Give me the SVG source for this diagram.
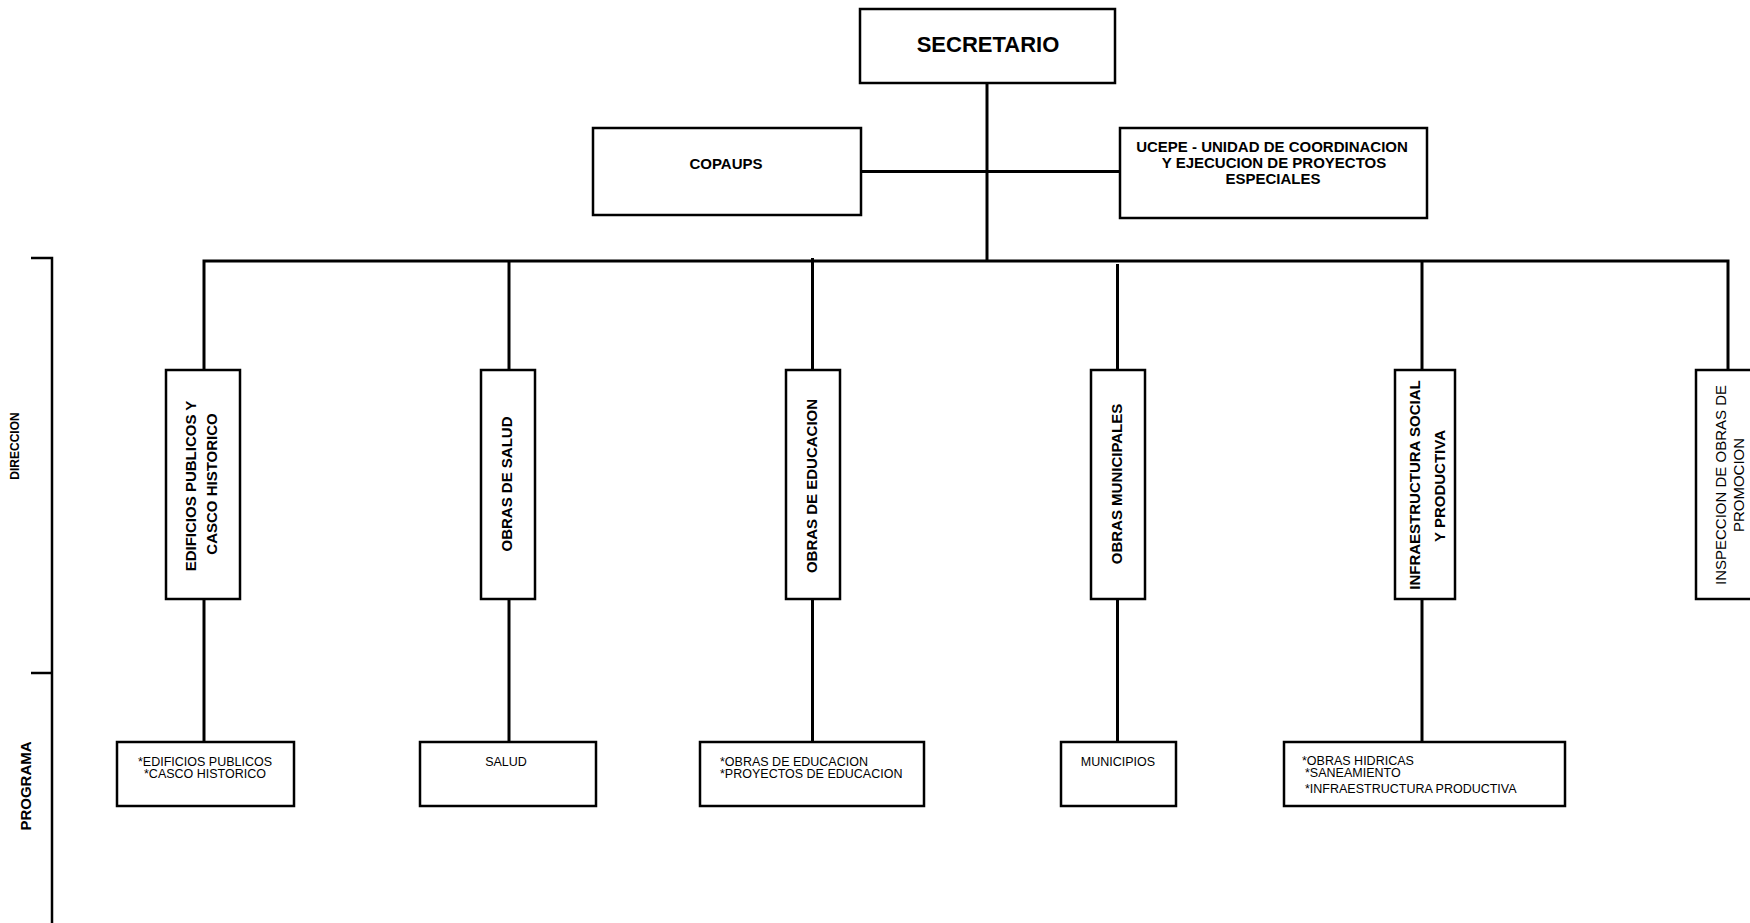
<svg xmlns="http://www.w3.org/2000/svg" width="1750" height="923" viewBox="0 0 1750 923">
<style>
.box{fill:#fff;stroke:#000;stroke-width:2.5}
.ln{fill:none;stroke:#000;stroke-width:3}
.bk{fill:none;stroke:#000;stroke-width:2.5}
text{font-family:"Liberation Sans",Arial,sans-serif;fill:#000}
.b{font-weight:bold}
.t22{font-size:22px}
.t15{font-size:15px}
.t12{font-size:12px}
.s{font-size:12.5px}
.m{text-anchor:middle}
</style>
<rect width="1750" height="923" fill="#fff"/>
<g id="connectors">
<path class="ln" d="M987 83V261"/>
<path class="ln" d="M861 171.5H1120"/>
<path class="ln" d="M204 370V261H1728V370"/>
<path class="ln" d="M509 261V370"/>
<path class="ln" d="M812.5 258V370"/>
<path class="ln" d="M1117.5 264V370"/>
<path class="ln" d="M1422 261V370"/>
<path class="ln" d="M204 599V742"/>
<path class="ln" d="M509 599V742"/>
<path class="ln" d="M812.5 599V742"/>
<path class="ln" d="M1117.5 599V742"/>
<path class="ln" d="M1422 599V742"/>
</g>
<g id="levels">
<path class="bk" d="M31 258H52V923"/>
<path class="bk" d="M31 673H52"/>
<text class="b t12 m" x="19" y="446" transform="rotate(-90 19 446)">DIRECCION</text>
<text class="b t15 m" x="31" y="786" transform="rotate(-90 31 786)">PROGRAMA</text>
</g>
<g id="secretario">
<rect class="box" x="860" y="9" width="255" height="74"/>
<text class="b t22 m" x="988" y="52">SECRETARIO</text>
</g>
<g id="copaups">
<rect class="box" x="593" y="128" width="268" height="87"/>
<text class="b t15 m" x="726" y="169">COPAUPS</text>
</g>
<g id="ucepe">
<rect class="box" x="1120" y="128" width="307" height="90"/>
<text class="b t15 m" x="1272" y="152">UCEPE - UNIDAD DE COORDINACION</text>
<text class="b t15 m" x="1274" y="168">Y EJECUCION DE PROYECTOS</text>
<text class="b t15 m" x="1273" y="184">ESPECIALES</text>
</g>
<g id="dir-edificios">
<rect class="box" x="166" y="370" width="74" height="229"/>
<text class="b t15 m" x="195.5" y="486" transform="rotate(-90 195.5 486)">EDIFICIOS PUBLICOS Y</text>
<text class="b t15 m" x="216.5" y="484" transform="rotate(-90 216.5 484)">CASCO HISTORICO</text>
</g>
<g id="dir-salud">
<rect class="box" x="481" y="370" width="54" height="229"/>
<text class="b t15 m" x="512" y="484" transform="rotate(-90 512 484)">OBRAS DE SALUD</text>
</g>
<g id="dir-educacion">
<rect class="box" x="786" y="370" width="54" height="229"/>
<text class="b t15 m" x="817" y="486" transform="rotate(-90 817 486)">OBRAS DE EDUCACION</text>
</g>
<g id="dir-municipales">
<rect class="box" x="1091" y="370" width="54" height="229"/>
<text class="b t15 m" x="1122" y="484" transform="rotate(-90 1122 484)">OBRAS MUNICIPALES</text>
</g>
<g id="dir-infraestructura">
<rect class="box" x="1395" y="370" width="60" height="229"/>
<text class="b t15 m" x="1420" y="485" transform="rotate(-90 1420 485)">INFRAESTRUCTURA SOCIAL</text>
<text class="b t15 m" x="1445" y="486" transform="rotate(-90 1445 486)">Y PRODUCTIVA</text>
</g>
<g id="dir-inspeccion">
<rect class="box" x="1696" y="370" width="80" height="229"/>
<text class="t15 m" x="1726" y="485" transform="rotate(-90 1726 485)">INSPECCION DE OBRAS DE</text>
<text class="t15 m" x="1744" y="485" transform="rotate(-90 1744 485)">PROMOCION</text>
</g>
<g id="prog-edificios">
<rect class="box" x="117" y="742" width="177" height="64"/>
<text class="s m" x="205" y="765.5">*EDIFICIOS PUBLICOS</text>
<text class="s m" x="205" y="778">*CASCO HISTORICO</text>
</g>
<g id="prog-salud">
<rect class="box" x="420" y="742" width="176" height="64"/>
<text class="s m" x="506" y="765.5">SALUD</text>
</g>
<g id="prog-educacion">
<rect class="box" x="700" y="742" width="224" height="64"/>
<text class="s" x="720" y="765.5">*OBRAS DE EDUCACION</text>
<text class="s" x="720" y="778">*PROYECTOS DE EDUCACION</text>
</g>
<g id="prog-municipios">
<rect class="box" x="1061" y="742" width="115" height="64"/>
<text class="s m" x="1118" y="765.5">MUNICIPIOS</text>
</g>
<g id="prog-infraestructura">
<rect class="box" x="1284" y="742" width="281" height="64"/>
<text class="s" x="1302" y="765">*OBRAS HIDRICAS</text>
<text class="s" x="1305" y="777">*SANEAMIENTO</text>
<text class="s" x="1305" y="793">*INFRAESTRUCTURA PRODUCTIVA</text>
</g>
</svg>
